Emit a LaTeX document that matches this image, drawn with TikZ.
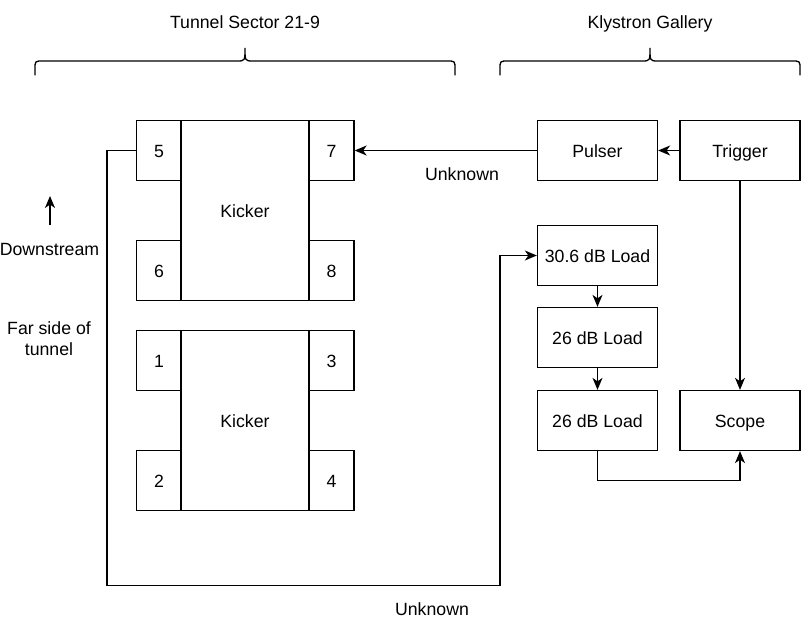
\documentclass[tikz,border=0pt]{standalone}
\usepackage{fontspec}
\setmainfont{Liberation Sans}
\usetikzlibrary{arrows.meta}
\begin{document}
\begin{tikzpicture}[x=1pt,y=-1pt,
  every node/.style={font=\fontsize{17.7}{21}\selectfont, inner sep=0pt},
  txt/.style={text height=13.8pt, text depth=0pt},
  box/.style={txt, draw, line width=1.3pt, minimum width=120pt, minimum height=60pt},
  kick/.style={txt, draw, line width=1.3pt, minimum width=128pt, minimum height=180pt},
  port/.style={txt, draw, line width=1.3pt, minimum width=45pt, minimum height=60pt},
  conn/.style={line width=1.3pt},
  arr/.style={conn, -{Stealth[length=12pt,width=10pt,inset=3.5pt]}},
  brace/.style={line width=1.3pt, line cap=round}]
\useasboundingbox (0,0) rectangle (801,632);
% top labels and braces
\node[txt] (tlab) at (245,22) {Tunnel Sector 21-9};
\node[txt] (klab) at (650,22) {Klystron Gallery};
\draw[brace] (35,75) -- (35,69) .. controls (35,61) .. (43,61) -- (237,61)
  .. controls (245,61) .. (245,48) .. controls (245,61) .. (253,61) -- (447,61)
  .. controls (455,61) .. (455,69) -- (455,75);
\draw[brace] (500,75) -- (500,69) .. controls (500,61) .. (508,61) -- (642,61)
  .. controls (650,61) .. (650,48) .. controls (650,61) .. (658,61) -- (792,61)
  .. controls (800,61) .. (800,69) -- (800,75);
% kickers
\node[kick] (k1) at (245,210.5) {Kicker};
\node[port] (p5) at (159,150.5) {5};
\node[port] (p7) at (331.5,150.5) {7};
\node[port] (p6) at (159,270.5) {6};
\node[port] (p8) at (331.5,270.5) {8};
\node[kick] (k2) at (245,420.5) {Kicker};
\node[port] (p1) at (159,360.5) {1};
\node[port] (p3) at (331.5,360.5) {3};
\node[port] (p2) at (159,480.5) {2};
\node[port] (p4) at (331.5,480.5) {4};
% gallery
\node[box] (pulser) at (597.5,150.5) {Pulser};
\node[box] (trig) at (740,150.5) {Trigger};
\node[box] (l30) at (597.5,255.5) {30.6 dB Load};
\node[box] (l26a) at (597.5,337.5) {26 dB Load};
\node[box] (l26b) at (597.5,420.5) {26 dB Load};
\node[box] (scope) at (740,420.5) {Scope};
% side labels
\coordinate (dsb) at (50,225);
\coordinate (dst) at (50,196);
\draw[arr] (dsb) -- (dst);
\node[txt] (ds) at (49.5,249) {Downstream};
\node[align=center] (far) at (49,339) {Far side of\\tunnel};
% connectors
\draw[arr] (pulser.west) -- (p7.east);
\node[txt] (u1) at (462,174) {Unknown};
\draw[arr] (trig.west) -- (pulser.east);
\draw[arr] (trig.south) -- (scope.north);
\draw[arr] (l30.south) -- (l26a.north);
\draw[arr] (l26a.south) -- (l26b.north);
\coordinate (lb) at (597.5,480.5);
\draw[arr] (l26b.south) -- (lb) -| (scope.south);
\coordinate (bl) at (107,585.5);
\coordinate (br) at (500,585.5);
\draw[arr] (p5.west) -| (bl) -- (br) |- (l30.west);
\node[txt] (u2) at (432,609) {Unknown};
\end{tikzpicture}
\end{document}
